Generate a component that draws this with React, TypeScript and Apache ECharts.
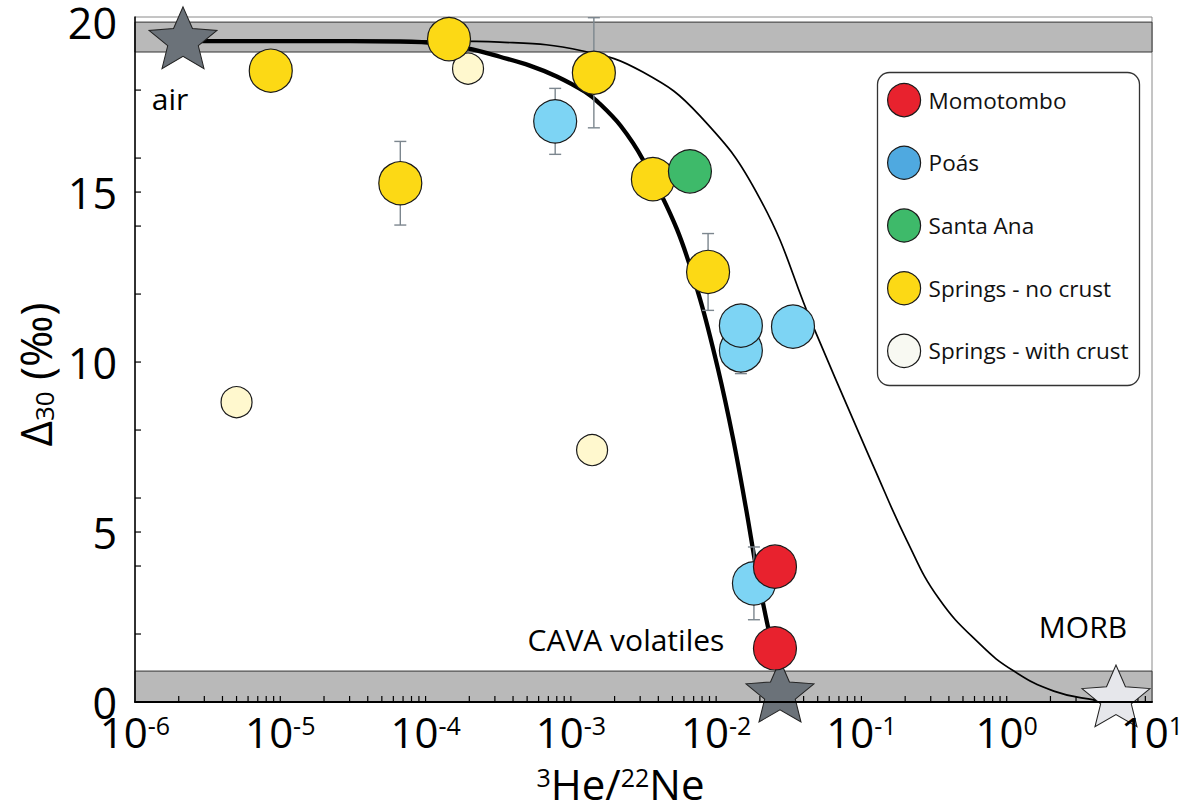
import React, { useEffect, useRef } from "react";
import * as echarts from "echarts";

const FONT = '"Open Sans", "Noto Sans", sans-serif';

// ---- legend / categories ----
const legendNames = ["Momotombo", "Poás", "Santa Ana", "Springs - no crust", "Springs - with crust"];
const legendColors = ["#E8222E", "#4FA9E0", "#3EBA6A", "#FCD915", "#F8F9F2"];

// ---- data points [3He/22Ne, Δ30] ----
const momotomboPts = [[0.0254, 3.98], [0.0254, 1.58]];
const poasPts = [[7.8e-4, 17.08], [0.0148, 10.34], [0.0148, 11.07], [0.0338, 11.04], [0.0182, 3.49]];
const santaAnaPts = [[6.6e-3, 15.61]];
const springsNoCrustPts = [[8.6e-6, 18.57], [1.45e-4, 19.5], [6.7e-5, 15.26], [1.44e-3, 18.51], [3.67e-3, 15.38], [8.8e-3, 12.65]];
const springsCrustPts = [[1.96e-4, 18.63], [5.0e-6, 8.82], [1.4e-3, 7.41]];

// error bars [x, y, ±err]
const errorBars = [
  [6.7e-5, 15.26, 1.23],
  [1.44e-3, 18.51, 1.62],
  [8.8e-3, 12.65, 1.13],
  [7.8e-4, 17.08, 0.97],
  [0.0148, 10.34, 0.68],
  [0.0182, 3.49, 1.07],
];

// end-members
const endMemberNames = ["air", "CAVA volatiles", "MORB"];
const endMemberPts = [[2.14e-6, 19.54], [0.0275, 0.32], [5.65, 0.18]];

// mixing curves
const thickCurve = [
  [2.14e-6, 19.44], [1.37e-5, 19.44], [6.7e-5, 19.43], [1.26e-4, 19.37], [2.1e-4, 19.2],
  [3.25e-4, 18.98], [5.22e-4, 18.72], [8.0e-4, 18.4], [1.25e-3, 17.95], [1.58e-3, 17.6],
  [2.2e-3, 16.95], [3.13e-3, 15.96], [5.37e-3, 13.91], [7.74e-3, 11.86], [1.028e-2, 9.81],
  [1.306e-2, 7.76], [1.603e-2, 5.71], [1.91e-2, 3.81], [2.24e-2, 2.34], [2.54e-2, 1.32], [2.79e-2, 0.38],
];
const thinCurve = [
  [2.14e-6, 19.44], [1.47e-4, 19.44], [3.25e-4, 19.41], [1.21e-3, 19.15], [3.13e-3, 18.53],
  [7.74e-3, 17.24], [0.02, 14.81], [0.0463, 11.07], [0.0931, 8.05], [0.12, 6.97],
  [0.2056, 4.75], [0.34, 3.05], [0.655, 1.7], [1.12, 0.91], [2.11, 0.32], [3.98, 0.06], [5.47, 0.0],
];

// grey bands (Δ30 ranges)
const airBand = [19.12, 20];
const lowBand = [0, 0.91];

// ticks
const xDecades = [-6, -5, -4, -3, -2, -1, 0];
const xMultipliers = [1, 2, 3, 4, 5, 6, 7, 8, 9];
const yTickValues = [2, 4, 5, 6, 8, 10, 12, 14, 15, 16, 18];
const yLabelValues = [0, 5, 10, 15, 20];

const STAR =
  "path://M0,-50L13.23,-18.2L47.55,-15.45L21.4,6.95L29.39,40.45L0,22.5L-29.39,40.45L-21.4,6.95L-47.55,-15.45L-13.23,-18.2Z";

function buildOption() {
  const xTickData: number[][] = [];
  xDecades.forEach((k) =>
    xMultipliers.forEach((m) => {
      const v = Number((m * Math.pow(10, k)).toPrecision(6));
      if (v > 1e-6) xTickData.push([v, 0]);
    })
  );
  const yTickData = yTickValues.map((v) => [1e-6, v]);

  const pointStyle = (color: string) => ({ color, borderColor: "#1a1a1a", borderWidth: 1.2, opacity: 1 });
  const labelOffsets = [[-13, 61], [-154, -52], [-33, -69]];
  const starFills = ["#6B7279", "#6B7279", "#E6E7EB"];

  return {
    animation: false,
    backgroundColor: "#ffffff",
    grid: { left: 135, right: 40, top: 17, bottom: 104, show: true, borderColor: "#8a8a8a", borderWidth: 1 },
    legend: {
      orient: "vertical",
      left: 887,
      top: 83,
      padding: 0,
      itemWidth: 33,
      itemHeight: 33,
      itemGap: 28.5,
      icon: "circle",
      selectedMode: false,
      z: 10,
      data: legendNames.map((n, i) => ({
        name: n,
        itemStyle: { color: legendColors[i], borderColor: "#1a1a1a", borderWidth: 1.2, opacity: 1 },
      })),
      textStyle: { fontFamily: FONT, fontSize: 22.5, color: "#111", padding: [0, 0, 0, 3] },
    },
    graphic: [
      {
        type: "rect",
        z: 5,
        shape: { x: 877.5, y: 72.5, width: 262, height: 313, r: 12 },
        style: { fill: "#ffffff", stroke: "#333", lineWidth: 1.3 },
      },
    ],
    xAxis: {
      type: "log",
      logBase: 10,
      min: 1e-6,
      max: 10,
      z: 10,
      splitLine: { show: false },
      axisTick: { show: false },
      minorTick: { show: false },
      axisLine: { show: true, onZero: false, lineStyle: { color: "#000", width: 2 } },
      axisLabel: {
        margin: 10,
        fontFamily: FONT,
        formatter: (v: number) => `{b|10}{s|${Math.round(Math.log10(v))}}`,
        rich: {
          b: { fontSize: 42, lineHeight: 38, fontFamily: FONT, color: "#000" },
          s: { fontSize: 25, lineHeight: 25, fontFamily: FONT, color: "#000", verticalAlign: "top" },
        },
      },
      name: "{s|3}{b|He/}{s|22}{b|Ne}",
      nameLocation: "middle",
      nameGap: 62,
      nameTextStyle: {
        fontFamily: FONT,
        padding: [0, 46, 0, 0],
        rich: {
          b: { fontSize: 42, lineHeight: 38, fontFamily: FONT, color: "#000" },
          s: { fontSize: 25, lineHeight: 25, fontFamily: FONT, color: "#000", verticalAlign: "top" },
        },
      },
    },
    yAxis: {
      type: "value",
      min: 0,
      max: 20.15,
      interval: 5,
      z: 10,
      splitLine: { show: false },
      axisTick: { show: false },
      axisLine: { show: true, onZero: false, lineStyle: { color: "#000", width: 1.5 } },
      axisLabel: {
        margin: 18,
        fontSize: 43,
        lineHeight: 38,
        fontFamily: FONT,
        color: "#000",
        formatter: (v: number) => (yLabelValues.indexOf(v) >= 0 ? String(v) : ""),
      },
      name: "{d|Δ}{s|30}{n| (‰)}",
      nameLocation: "middle",
      nameRotate: 90,
      nameGap: 72,
      nameTextStyle: {
        fontFamily: FONT,
        padding: [0, 30, 0, 0],
        rich: {
          d: { fontSize: 44, fontFamily: FONT, color: "#000" },
          s: { fontSize: 26, fontFamily: FONT, color: "#000", verticalAlign: "bottom" },
          n: { fontSize: 44, fontFamily: FONT, color: "#000" },
        },
      },
    },
    series: [
      {
        name: "bands",
        type: "line",
        data: [],
        z: 1,
        silent: true,
        markArea: {
          silent: true,
          label: { show: false },
          itemStyle: { color: "#B9B9B9", borderColor: "#333", borderWidth: 1, opacity: 1 },
          data: [
            [{ yAxis: airBand[0] }, { yAxis: airBand[1] }],
            [{ yAxis: lowBand[0] }, { yAxis: lowBand[1] }],
          ],
        },
      },
      {
        name: "xticks",
        type: "custom",
        z: 3,
        silent: true,
        data: xTickData,
        renderItem: (_p: any, api: any) => {
          const p = api.coord([api.value(0), api.value(1)]);
          return {
            type: "line",
            shape: { x1: p[0], y1: p[1], x2: p[0], y2: p[1] - 6 },
            style: { stroke: "#000", lineWidth: 1.2 },
          };
        },
      },
      {
        name: "yticks",
        type: "custom",
        z: 3,
        silent: true,
        data: yTickData,
        renderItem: (_p: any, api: any) => {
          const p = api.coord([api.value(0), api.value(1)]);
          return {
            type: "line",
            shape: { x1: p[0], y1: p[1], x2: p[0] + 6, y2: p[1] },
            style: { stroke: "#000", lineWidth: 1.2 },
          };
        },
      },
      {
        name: "thin",
        type: "line",
        data: thinCurve,
        smooth: 0.45,
        symbol: "none",
        z: 2,
        silent: true,
        lineStyle: { color: "#000", width: 1.7 },
      },
      {
        name: "thick",
        type: "line",
        data: thickCurve,
        smooth: 0.35,
        symbol: "none",
        z: 2,
        silent: true,
        lineStyle: { color: "#000", width: 4.3 },
      },
      {
        name: "errors",
        type: "custom",
        z: 3,
        silent: true,
        data: errorBars,
        encode: { x: 0, y: 1 },
        renderItem: (_p: any, api: any) => {
          const x = api.value(0);
          const y = api.value(1);
          const e = api.value(2);
          const t = api.coord([x, y + e]);
          const b = api.coord([x, y - e]);
          const hw = 6;
          const st = { stroke: "#7C868E", lineWidth: 1.4 };
          return {
            type: "group",
            children: [
              { type: "line", shape: { x1: t[0], y1: t[1], x2: b[0], y2: b[1] }, style: st },
              { type: "line", shape: { x1: t[0] - hw, y1: t[1], x2: t[0] + hw, y2: t[1] }, style: st },
              { type: "line", shape: { x1: b[0] - hw, y1: b[1], x2: b[0] + hw, y2: b[1] }, style: st },
            ],
          };
        },
      },
      {
        name: "endmembers",
        type: "scatter",
        z: 4,
        silent: true,
        symbol: STAR,
        symbolSize: [68, 65],
        symbolKeepAspect: true,
        data: endMemberPts.map((p, i) => ({
          value: p,
          itemStyle: { color: starFills[i], borderColor: "#222", borderWidth: 1, opacity: 1 },
          label: {
            show: true,
            formatter: endMemberNames[i],
            position: "inside",
            offset: labelOffsets[i],
            fontSize: 30,
            fontFamily: FONT,
            color: "#000",
            opacity: 1,
          },
        })),
      },
      {
        name: "Springs - with crust",
        type: "scatter",
        z: 5,
        symbolSize: 31,
        itemStyle: pointStyle("#FFF8CE"),
        data: springsCrustPts,
      },
      {
        name: "Poás",
        type: "scatter",
        z: 5,
        symbolSize: 43,
        itemStyle: pointStyle("#7DD4F4"),
        data: poasPts,
      },
      {
        name: "Springs - no crust",
        type: "scatter",
        z: 5,
        symbolSize: 43,
        itemStyle: pointStyle("#FCD915"),
        data: springsNoCrustPts,
      },
      {
        name: "Santa Ana",
        type: "scatter",
        z: 5,
        symbolSize: 43,
        itemStyle: pointStyle("#3EBA6A"),
        data: santaAnaPts,
      },
      {
        name: "Momotombo",
        type: "scatter",
        z: 5,
        symbolSize: 43,
        itemStyle: pointStyle("#E8222E"),
        data: momotomboPts,
      },
    ],
  };
}

export default function App() {
  const ref = useRef<HTMLDivElement>(null);
  useEffect(() => {
    if (!ref.current) return;
    const chart = echarts.init(ref.current, undefined, { renderer: "svg" });
    chart.setOption(buildOption() as any);
    return () => chart.dispose();
  }, []);
  return (
    <div
      ref={ref}
      style={{ position: "fixed", left: 0, top: 0, width: 1192, height: 809, background: "#fff" }}
    />
  );
}
